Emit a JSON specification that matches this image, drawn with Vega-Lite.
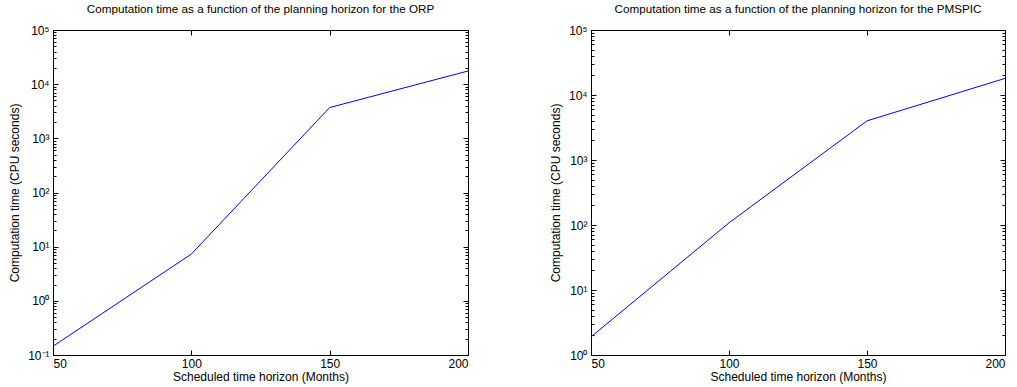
{
  "$schema": "https://vega.github.io/schema/vega-lite/v6.json",
  "background": "white",
  "padding": {"left": 8, "top": 3, "right": 5, "bottom": 2},
  "config": {
    "font": "Liberation Sans",
    "view": {"stroke": "black", "strokeWidth": 1},
    "axis": {"grid": false, "domainColor": "black", "tickColor": "black", "labelColor": "black", "titleColor": "black", "labelFontSize": 12, "titleFontSize": 12, "titleFontWeight": "normal", "labelFont": "Liberation Sans", "titleFont": "Liberation Sans"},
    "title": {"fontSize": 11.7, "fontWeight": "normal", "font": "Liberation Sans", "color": "black", "offset": 8}
  },
  "datasets": {
    "orp": [
      {"horizon": 50, "time": 0.145},
      {"horizon": 100, "time": 7.3},
      {"horizon": 150, "time": 3700},
      {"horizon": 200, "time": 17500}
    ],
    "pmspic": [
      {"horizon": 50, "time": 1.9},
      {"horizon": 100, "time": 108},
      {"horizon": 150, "time": 4000},
      {"horizon": 200, "time": 18000}
    ]
  },
  "spacing": 79,
  "hconcat": [
    {
      "width": 415,
      "height": 325,
      "title": "Computation time as a function of the planning horizon for the ORP",
      "data": {"name": "orp"},
      "layer": [
        {
          "mark": {"type": "line", "color": "#0000ff", "strokeWidth": 1, "clip": true},
          "encoding": {
            "x": {"field": "horizon", "type": "quantitative", "scale": {"domain": [50, 200], "nice": false, "zero": false},
              "axis": {"orient": "bottom", "values": [50, 100, 150, 200], "title": "Scheduled time horizon (Months)", "tickSize": -5, "labelPadding": 8, "titlePadding": 2}},
            "y": {"field": "time", "type": "quantitative", "scale": {"type": "log", "domain": [0.1, 100000], "nice": false},
              "axis": {"orient": "left", "title": "Computation time (CPU seconds)",
                "values": [0.1,0.2,0.3,0.4,0.5,0.6,0.7,0.8,0.9,1,2,3,4,5,6,7,8,9,10,20,30,40,50,60,70,80,90,100,200,300,400,500,600,700,800,900,1000,2000,3000,4000,5000,6000,7000,8000,9000,10000,20000,30000,40000,50000,60000,70000,80000,90000,100000],
                "labelExpr": "abs(log(datum.value)/LN10 - round(log(datum.value)/LN10)) < 0.001 ? '10' + ['⁻¹','⁰','¹','²','³','⁴','⁵'][round(log(datum.value)/LN10)+1] : ''",
                "tickSize": {"condition": {"test": "abs(log(datum.value)/LN10 - round(log(datum.value)/LN10)) < 0.001", "value": -5}, "value": -3},
                "labelPadding": 9, "titlePadding": 6}}
          }
        },
        {
          "mark": {"type": "line", "opacity": 0},
          "encoding": {
            "x": {"field": "horizon", "type": "quantitative", "scale": {"domain": [50, 200], "nice": false, "zero": false},
              "axis": {"orient": "top", "values": [100, 150], "labels": false, "title": null, "tickSize": -5}},
            "y": {"field": "time", "type": "quantitative", "scale": {"type": "log", "domain": [0.1, 100000], "nice": false},
              "axis": {"orient": "right", "title": null, "labels": false,
                "values": [0.1,0.2,0.3,0.4,0.5,0.6,0.7,0.8,0.9,1,2,3,4,5,6,7,8,9,10,20,30,40,50,60,70,80,90,100,200,300,400,500,600,700,800,900,1000,2000,3000,4000,5000,6000,7000,8000,9000,10000,20000,30000,40000,50000,60000,70000,80000,90000,100000],
                "tickSize": {"condition": {"test": "abs(log(datum.value)/LN10 - round(log(datum.value)/LN10)) < 0.001", "value": -5}, "value": -3}}}
          }
        }
      ],
      "resolve": {"axis": {"x": "independent", "y": "independent"}}
    },
    {
      "width": 414,
      "height": 325,
      "title": "Computation time as a function of the planning horizon for the PMSPIC",
      "data": {"name": "pmspic"},
      "layer": [
        {
          "mark": {"type": "line", "color": "#0000ff", "strokeWidth": 1, "clip": true},
          "encoding": {
            "x": {"field": "horizon", "type": "quantitative", "scale": {"domain": [50, 200], "nice": false, "zero": false},
              "axis": {"orient": "bottom", "values": [50, 100, 150, 200], "title": "Scheduled time horizon (Months)", "tickSize": -5, "labelPadding": 8, "titlePadding": 2}},
            "y": {"field": "time", "type": "quantitative", "scale": {"type": "log", "domain": [1, 100000], "nice": false},
              "axis": {"orient": "left", "title": "Computation time (CPU seconds)",
                "values": [1,2,3,4,5,6,7,8,9,10,20,30,40,50,60,70,80,90,100,200,300,400,500,600,700,800,900,1000,2000,3000,4000,5000,6000,7000,8000,9000,10000,20000,30000,40000,50000,60000,70000,80000,90000,100000],
                "labelExpr": "abs(log(datum.value)/LN10 - round(log(datum.value)/LN10)) < 0.001 ? '10' + ['⁰','¹','²','³','⁴','⁵'][round(log(datum.value)/LN10)] : ''",
                "tickSize": {"condition": {"test": "abs(log(datum.value)/LN10 - round(log(datum.value)/LN10)) < 0.001", "value": -5}, "value": -3},
                "labelPadding": 9, "titlePadding": 6}}
          }
        },
        {
          "mark": {"type": "line", "opacity": 0},
          "encoding": {
            "x": {"field": "horizon", "type": "quantitative", "scale": {"domain": [50, 200], "nice": false, "zero": false},
              "axis": {"orient": "top", "values": [100, 150], "labels": false, "title": null, "tickSize": -5}},
            "y": {"field": "time", "type": "quantitative", "scale": {"type": "log", "domain": [1, 100000], "nice": false},
              "axis": {"orient": "right", "title": null, "labels": false,
                "values": [1,2,3,4,5,6,7,8,9,10,20,30,40,50,60,70,80,90,100,200,300,400,500,600,700,800,900,1000,2000,3000,4000,5000,6000,7000,8000,9000,10000,20000,30000,40000,50000,60000,70000,80000,90000,100000],
                "tickSize": {"condition": {"test": "abs(log(datum.value)/LN10 - round(log(datum.value)/LN10)) < 0.001", "value": -5}, "value": -3}}}
          }
        }
      ],
      "resolve": {"axis": {"x": "independent", "y": "independent"}}
    }
  ]
}
